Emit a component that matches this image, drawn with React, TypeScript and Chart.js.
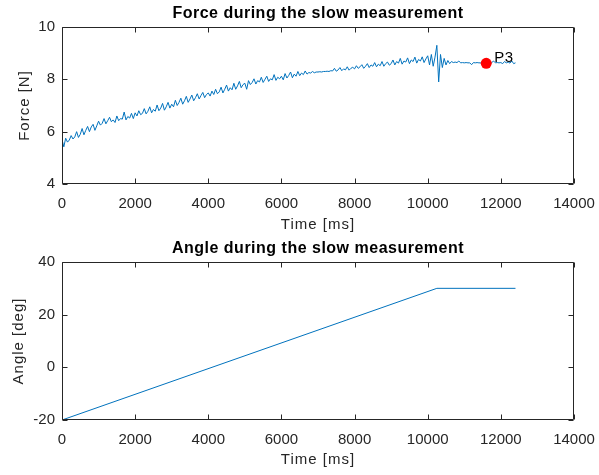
import React, { useEffect, useRef } from "react";
import { Chart, registerables } from "chart.js";

Chart.register(...registerables);

// ---------- data ----------
const FORCE_TIME_MS = [
  0, 50, 100, 150, 200, 250, 300, 350, 400, 450, 500, 550, 600, 650, 700, 750, 800, 850, 900, 950,
  1000, 1050, 1100, 1150, 1200, 1250, 1300, 1350, 1400, 1450, 1500, 1550, 1600, 1650, 1700, 1750, 1800, 1850, 1900, 1950,
  2000, 2050, 2100, 2150, 2200, 2250, 2300, 2350, 2400, 2450, 2500, 2550, 2600, 2650, 2700, 2750, 2800, 2850, 2900, 2950,
  3000, 3050, 3100, 3150, 3200, 3250, 3300, 3350, 3400, 3450, 3500, 3550, 3600, 3650, 3700, 3750, 3800, 3850, 3900, 3950,
  4000, 4050, 4100, 4150, 4200, 4250, 4300, 4350, 4400, 4450, 4500, 4550, 4600, 4650, 4700, 4750, 4800, 4850, 4900, 4950,
  5000, 5050, 5100, 5150, 5200, 5250, 5300, 5350, 5400, 5450, 5500, 5550, 5600, 5650, 5700, 5750, 5800, 5850, 5900, 5950,
  6000, 6050, 6100, 6150, 6200, 6250, 6300, 6350, 6400, 6450, 6500, 6550, 6600, 6650, 6700, 6750, 6800, 6850, 6900, 6950,
  7000, 7050, 7100, 7150, 7200, 7250, 7300, 7350, 7400, 7450, 7500, 7550, 7600, 7650, 7700, 7750, 7800, 7850, 7900, 7950,
  8000, 8050, 8100, 8150, 8200, 8250, 8300, 8350, 8400, 8450, 8500, 8550, 8600, 8650, 8700, 8750, 8800, 8850, 8900, 8950,
  9000, 9050, 9100, 9150, 9200, 9250, 9300, 9350, 9400, 9450, 9500, 9550, 9600, 9650, 9700, 9750, 9800, 9850, 9900, 9950,
  10000, 10050, 10100, 10150, 10200, 10250, 10300, 10350, 10400, 10450, 10500, 10550, 10600, 10650, 10700, 10750, 10800, 10850, 10900, 10950,
  11000, 11050, 11100, 11150, 11200, 11250, 11300, 11350, 11400, 11450, 11500, 11550, 11600, 11650, 11700, 11750, 11800, 11850, 11900, 11950,
  12000, 12050, 12100, 12150, 12200, 12250, 12300, 12350, 12400,
];

const FORCE_N = [
  5.7, 5.42, 5.75, 5.6, 5.68, 5.85, 5.72, 5.8, 6.0, 5.78, 5.9, 6.12, 5.88, 6.05, 6.2, 6.0, 6.18, 6.28, 6.05, 6.22,
  6.4, 6.25, 6.32, 6.5, 6.3, 6.42, 6.55, 6.38, 6.45, 6.35, 6.6, 6.42, 6.5, 6.48, 6.75, 6.45, 6.58, 6.52, 6.7, 6.5,
  6.72, 6.6, 6.8, 6.65, 6.7, 6.88, 6.68, 6.78, 6.95, 6.72, 6.85, 6.78, 7.02, 6.8, 6.9, 7.08, 6.82, 6.95, 7.12, 6.9,
  7.05, 6.95, 7.2, 7.0, 7.12, 7.28, 7.05, 7.18, 7.35, 7.12, 7.25, 7.4, 7.18, 7.3, 7.45, 7.25, 7.38, 7.5, 7.3, 7.42,
  7.48, 7.36, 7.55, 7.42, 7.62, 7.45, 7.52, 7.7, 7.48, 7.62, 7.78, 7.55, 7.68, 7.6, 7.85, 7.62, 7.75, 7.92, 7.68, 7.8,
  7.85, 7.62, 7.95, 7.8, 7.88, 8.02, 7.82, 7.95, 7.9, 8.08, 7.88, 8.0, 8.12, 7.92, 8.02, 7.98, 8.18, 7.96, 8.08, 8.02,
  8.12, 7.98, 8.22, 8.05, 8.15, 8.28, 8.06, 8.2, 8.12, 8.3, 8.14, 8.24, 8.18, 8.32, 8.2, 8.26, 8.24, 8.3, 8.25, 8.28,
  8.28, 8.29, 8.28, 8.3, 8.3, 8.31, 8.3, 8.33, 8.32, 8.42, 8.31, 8.36, 8.45, 8.33, 8.4, 8.36, 8.48, 8.35, 8.42, 8.46,
  8.4, 8.52, 8.42, 8.48, 8.56, 8.42, 8.5, 8.6, 8.45, 8.55, 8.5, 8.64, 8.48, 8.58, 8.52, 8.68, 8.5, 8.6, 8.66, 8.54,
  8.6, 8.74, 8.55, 8.68, 8.62, 8.8, 8.58, 8.7, 8.66, 8.82, 8.6, 8.74, 8.68, 8.85, 8.62, 8.76, 8.7, 8.86, 8.64, 8.78,
  8.9, 8.55, 8.95, 8.5, 8.85, 9.3, 7.9, 8.95, 8.45, 8.8, 8.55, 8.72, 8.6, 8.68, 8.64, 8.66, 8.64, 8.7, 8.63, 8.64,
  8.63, 8.64, 8.63, 8.63, 8.56, 8.64, 8.63, 8.64, 8.63, 8.63, 8.64, 8.63, 8.63, 8.64, 8.63, 8.64, 8.7, 8.63, 8.64, 8.63,
  8.64, 8.6, 8.68, 8.63, 8.66, 8.62, 8.7, 8.6, 8.63,
];

const P3_TIME_MS = [11600];
const P3_FORCE_N = [8.61];
const P3_LABEL = "P3";

const ANGLE_TIME_MS = [0, 10250, 12400];
const ANGLE_DEG = [-20, 30, 30];

const TIME_TICKS = [0, 2000, 4000, 6000, 8000, 10000, 12000, 14000];
const FORCE_TICKS = [4, 6, 8, 10];
const ANGLE_TICKS = [-20, 0, 20, 40];

const FORCE_TITLE = "Force during the slow measurement";
const ANGLE_TITLE = "Angle during the slow measurement";
const TIME_LABEL = "Time [ms]";
const FORCE_LABEL = "Force [N]";
const ANGLE_LABEL = "Angle [deg]";

// ---------- styles ----------
const FONT = "'Liberation Sans', Arial, Helvetica, sans-serif";
const AXIS_COLOR = "#262626";
const LINE_COLOR = "#0072BD";
const W = 599;

const matlabPlugin = {
  id: "matlabBox",
  afterDraw(chart: any) {
    const opts = chart.options.plugins.matlabBox || {};
    const { ctx, chartArea } = chart;
    const { left, right, top, bottom } = chartArea;
    const xs = chart.scales.x;
    const ys = chart.scales.y;
    ctx.save();
    ctx.strokeStyle = AXIS_COLOR;
    ctx.lineWidth = 1;
    const L = Math.round(left) + 0.5;
    const R = Math.round(right) - 0.5;
    const T = Math.round(top) + 0.5;
    const B = Math.round(bottom) - 0.5;
    ctx.beginPath();
    ctx.rect(L, T, R - L, B - T);
    const tl = 5;
    for (const v of opts.xTicks || []) {
      const px = Math.round(xs.getPixelForValue(v)) + 0.5;
      ctx.moveTo(px, B);
      ctx.lineTo(px, B - tl);
      ctx.moveTo(px, T);
      ctx.lineTo(px, T + tl);
    }
    for (const v of opts.yTicks || []) {
      const py = Math.round(ys.getPixelForValue(v)) + 0.5;
      ctx.moveTo(L, py);
      ctx.lineTo(L + tl, py);
      ctx.moveTo(R, py);
      ctx.lineTo(R - tl, py);
    }
    ctx.stroke();

    const cx = (left + right) / 2;
    const cy = (top + bottom) / 2;

    // title
    ctx.fillStyle = "#000";
    ctx.font = `bold 16px ${FONT}`;
    ctx.letterSpacing = "0.5px";
    ctx.textAlign = "center";
    ctx.textBaseline = "middle";
    ctx.fillText(opts.title || "", cx, opts.titleY);

    // axis labels
    ctx.fillStyle = AXIS_COLOR;
    ctx.font = `15px ${FONT}`;
    ctx.letterSpacing = "1px";
    ctx.fillText(opts.xLabel || "", cx, opts.xLabelY);
    ctx.save();
    ctx.translate(opts.yLabelX, cy);
    ctx.rotate(-Math.PI / 2);
    ctx.fillText(opts.yLabel || "", 0, 0);
    ctx.restore();

    // point labels
    if (opts.pointLabel) {
      const { x, y, text } = opts.pointLabel;
      const px = xs.getPixelForValue(x);
      const py = ys.getPixelForValue(y);
      ctx.font = `15px ${FONT}`;
      ctx.letterSpacing = "0.5px";
      ctx.textAlign = "left";
      ctx.fillStyle = "#000";
      ctx.fillText(text, px + 8, py - 6);
    }
    ctx.restore();
  },
};

function makeOptions(cfg: {
  yMin: number;
  yMax: number;
  yTicks: number[];
  yLabel: string;
  yLabelX: number;
  xLabelY: number;
  padTop: number;
  xHeight: number;
  title: string;
  titleY: number;
  pointLabel?: any;
}) {
  const tickFont = { family: FONT, size: 15 };
  return {
    responsive: false,
    animation: false as const,
    layout: { padding: { left: 0, right: 25, top: cfg.padTop, bottom: 0 } },
    plugins: {
      legend: { display: false },
      tooltip: { enabled: false },
      title: { display: false },
      matlabBox: {
        xTicks: TIME_TICKS,
        yTicks: cfg.yTicks,
        title: cfg.title,
        titleY: cfg.titleY,
        xLabel: TIME_LABEL,
        xLabelY: cfg.xLabelY,
        yLabel: cfg.yLabel,
        yLabelX: cfg.yLabelX,
        pointLabel: cfg.pointLabel,
      },
    },
    scales: {
      x: {
        type: "linear" as const,
        min: TIME_TICKS[0],
        max: TIME_TICKS[TIME_TICKS.length - 1],
        afterBuildTicks: (s: any) => {
          s.ticks = TIME_TICKS.map((v) => ({ value: v }));
        },
        afterFit: (s: any) => {
          s.height = cfg.xHeight;
          s.paddingLeft = 0;
          s.paddingRight = 0;
        },
        grid: { display: false, drawTicks: false },
        border: { display: false },
        ticks: {
          color: AXIS_COLOR,
          font: tickFont,
          padding: 11,
          maxRotation: 0,
          autoSkip: false,
          callback: (v: any) => String(v),
        },
        title: { display: false },
      },
      y: {
        type: "linear" as const,
        min: cfg.yMin,
        max: cfg.yMax,
        afterBuildTicks: (s: any) => {
          s.ticks = cfg.yTicks.map((v) => ({ value: v }));
        },
        afterFit: (s: any) => {
          s.width = 62;
          s.paddingTop = 0;
          s.paddingBottom = 0;
        },
        grid: { display: false, drawTicks: false },
        border: { display: false },
        ticks: { color: AXIS_COLOR, font: tickFont, padding: 7, callback: (v: any) => String(v) },
        title: { display: false },
      },
    },
  };
}

export default function App() {
  const forceRef = useRef<HTMLCanvasElement>(null);
  const angleRef = useRef<HTMLCanvasElement>(null);

  useEffect(() => {
    const forceChart = new Chart(forceRef.current as HTMLCanvasElement, {
      type: "line",
      data: {
        datasets: [
          {
            label: P3_LABEL,
            data: P3_TIME_MS.map((t, i) => ({ x: t, y: P3_FORCE_N[i] })),
            showLine: false,
            pointRadius: 5.5,
            pointBackgroundColor: "#FF0000",
            pointBorderWidth: 0,
            borderColor: "#FF0000",
          },
          {
            label: "Force",
            data: FORCE_TIME_MS.map((t, i) => ({ x: t, y: FORCE_N[i] })),
            borderColor: LINE_COLOR,
            borderWidth: 1,
            pointRadius: 0,
            tension: 0,
          },
        ],
      },
      options: makeOptions({
        yMin: 4,
        yMax: 10,
        yTicks: FORCE_TICKS,
        yLabel: FORCE_LABEL,
        yLabelX: 25,
        xLabelY: 225,
        padTop: 27,
        xHeight: 53,
        title: FORCE_TITLE,
        titleY: 14,
        pointLabel: { x: P3_TIME_MS[0], y: P3_FORCE_N[0], text: P3_LABEL },
      }) as any,
      plugins: [matlabPlugin],
    });

    const angleChart = new Chart(angleRef.current as HTMLCanvasElement, {
      type: "line",
      data: {
        datasets: [
          {
            label: "Angle",
            data: ANGLE_TIME_MS.map((t, i) => ({ x: t, y: ANGLE_DEG[i] })),
            borderColor: LINE_COLOR,
            borderWidth: 1,
            pointRadius: 0,
            tension: 0,
          },
        ],
      },
      options: makeOptions({
        yMin: -20,
        yMax: 40,
        yTicks: ANGLE_TICKS,
        yLabel: ANGLE_LABEL,
        yLabelX: 19,
        xLabelY: 223,
        padTop: 25,
        xHeight: 55,
        title: ANGLE_TITLE,
        titleY: 12,
      }) as any,
      plugins: [matlabPlugin],
    });

    return () => {
      forceChart.destroy();
      angleChart.destroy();
    };
  }, []);

  return (
    <div style={{ position: "absolute", left: 0, top: 0, width: W, height: 475, background: "#fff" }}>
      <canvas ref={forceRef} width={W} height={237} style={{ position: "absolute", left: 0, top: 0, display: "block" }} />
      <canvas ref={angleRef} width={W} height={238} style={{ position: "absolute", left: 0, top: 237, display: "block" }} />
    </div>
  );
}
